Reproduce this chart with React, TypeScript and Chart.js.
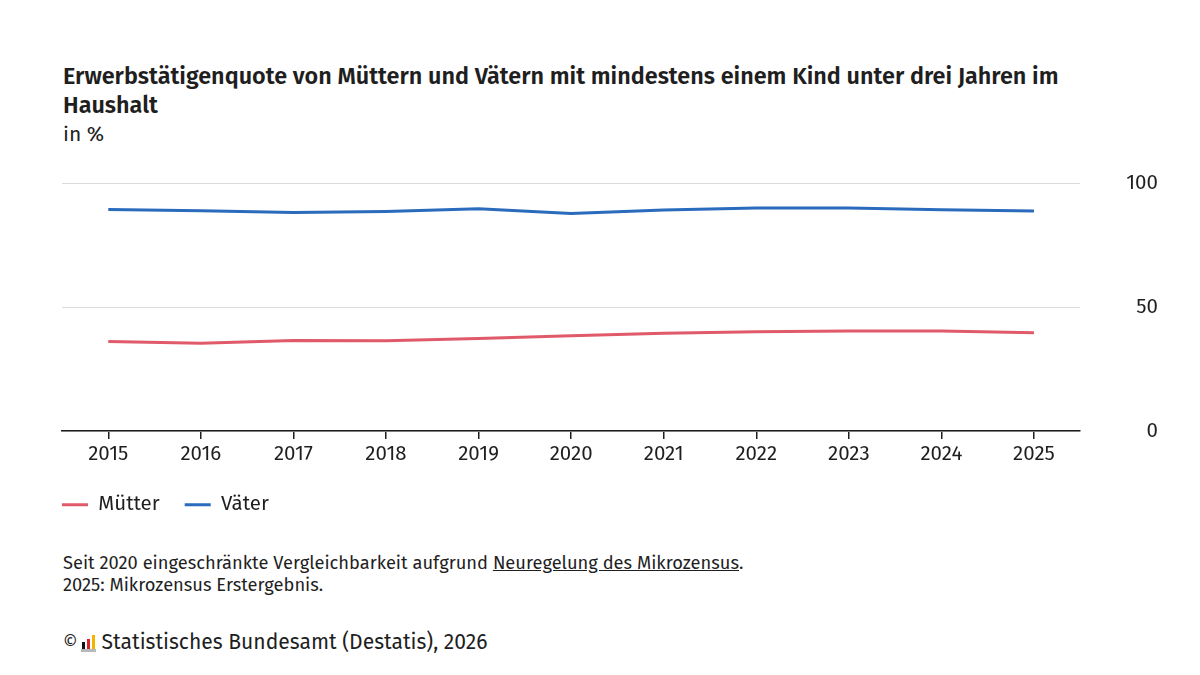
import React, { useEffect, useRef } from "react";
import { Chart, registerables } from "chart.js";

Chart.register(...registerables);

const years = ["2015", "2016", "2017", "2018", "2019", "2020", "2021", "2022", "2023", "2024", "2025"];
const muetter = [36.1, 35.4, 36.5, 36.4, 37.3, 38.5, 39.5, 40.1, 40.4, 40.4, 39.7];
const vaeter = [89.4, 88.9, 88.2, 88.6, 89.7, 87.8, 89.2, 90.0, 90.0, 89.3, 88.8];
const yTicks = [0, 50, 100];

const FONT = "'Fira Sans', 'Noto Sans', sans-serif";
const TEXT = "#1f1f1f";
const RED = "#e05a6a";
const BLUE = "#2a6bbd";

export default function App() {
  const ref = useRef<HTMLCanvasElement | null>(null);

  useEffect(() => {
    document.body.style.margin = "0";
    const canvas = ref.current;
    if (!canvas) return;
    const chart = new Chart(canvas, {
      type: "line",
      data: {
        labels: years,
        datasets: [
          {
            label: "Mütter",
            data: muetter,
            borderColor: RED,
            backgroundColor: RED,
            borderWidth: 3,
            pointRadius: 0,
            tension: 0,
          },
          {
            label: "Väter",
            data: vaeter,
            borderColor: BLUE,
            backgroundColor: BLUE,
            borderWidth: 3,
            pointRadius: 0,
            tension: 0,
          },
        ],
      },
      options: {
        responsive: false,
        animation: false,
        devicePixelRatio: 1,
        layout: { padding: { left: 37, right: 42, top: 20, bottom: 0 } },
        plugins: {
          tooltip: { enabled: false },
          legend: {
            position: "bottom",
            align: "start",
            labels: {
              boxWidth: 26,
              boxHeight: 3,
              padding: 25,
              color: TEXT,
              font: { family: FONT, size: 20.5 },
              generateLabels: (c: any) =>
                Chart.defaults.plugins.legend.labels.generateLabels(c).map((l: any) => ({
                  ...l,
                  lineWidth: 0,
                  strokeStyle: "transparent",
                })),
            },
          },
        },
        scales: {
          x: {
            offset: true,
            grid: {
              offset: false,
              drawOnChartArea: false,
              drawTicks: true,
              tickLength: 8,
              color: TEXT,
              lineWidth: 1.5,
            },
            border: { display: true, color: TEXT, width: 1.5 },
            ticks: {
              color: TEXT,
              font: { family: FONT, size: 20.5, lineHeight: 1.0 },
              padding: 5,
              maxRotation: 0,
            },
          },
          y: {
            position: "right",
            min: 0,
            max: 100,
            afterBuildTicks: (s: any) => {
              s.ticks = yTicks.map((v) => ({ value: v }));
            },
            grid: { color: "#dcdcdc", drawTicks: false, lineWidth: 1 },
            border: { display: false },
            ticks: {
              crossAlign: "far",
              padding: 23,
              color: TEXT,
              font: { family: FONT, size: 20.5 },
            },
          },
          pad: {
            position: "left",
            display: true,
            grid: { display: false },
            border: { display: false },
            ticks: { display: false },
            afterFit: (s: any) => {
              s.width = 25;
            },
          },
        },
      },
    } as any);
    return () => chart.destroy();
  }, []);

  return (
    <div
      style={{
        position: "relative",
        width: 1200,
        height: 675,
        background: "#fff",
        fontFamily: FONT,
        color: TEXT,
        overflow: "hidden",
      }}
    >
      <div
        style={{
          position: "absolute",
          left: 63,
          top: 62,
          fontSize: 23.4,
          fontWeight: 600,
          lineHeight: "29px",
          whiteSpace: "nowrap",
        }}
      >
        Erwerbstätigenquote von Müttern und Vätern mit mindestens einem Kind unter drei Jahren im
        <br />
        Haushalt
      </div>
      <div style={{ position: "absolute", left: 63, top: 121, fontSize: 21, lineHeight: "27px" }}>in %</div>
      <canvas ref={ref} width={1200} height={377} style={{ position: "absolute", left: 0, top: 148 }} />
      <div
        style={{
          position: "absolute",
          left: 63,
          top: 552,
          fontSize: 18.3,
          lineHeight: "22px",
          whiteSpace: "nowrap",
        }}
      >
        Seit 2020 eingeschränkte Vergleichbarkeit aufgrund{" "}
        <span style={{ textDecoration: "underline" }}>Neuregelung des Mikrozensus</span>.
        <br />
        2025: Mikrozensus Erstergebnis.
      </div>
      <div
        style={{
          position: "absolute",
          left: 63,
          top: 629,
          fontSize: 21.1,
          lineHeight: "27px",
          whiteSpace: "nowrap",
          display: "flex",
          alignItems: "center",
        }}
      >
        <span style={{ fontSize: 18 }}>©</span>
        <span
          style={{
            display: "inline-flex",
            alignItems: "flex-end",
            gap: 2,
            height: 16,
            marginLeft: 3,
            marginRight: 6,
            paddingLeft: 1,
            paddingRight: 1,
            borderBottom: "3px solid #b8b8b8",
          }}
        >
          <span style={{ width: 3, height: 7, background: "#111" }} />
          <span style={{ width: 3, height: 10, background: "#d8232a" }} />
          <span style={{ width: 3, height: 14, background: "#f2b400" }} />
        </span>
        <span>Statistisches Bundesamt (Destatis), 2026</span>
      </div>
    </div>
  );
}
